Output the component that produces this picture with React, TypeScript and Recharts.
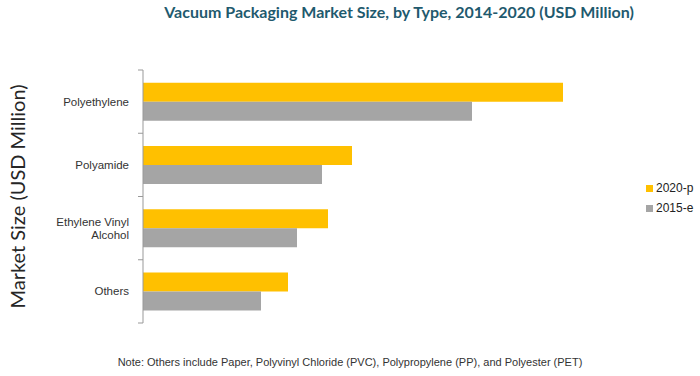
import { BarChart, Bar, XAxis, YAxis, Legend } from "recharts";

const categories = ["Polyethylene", "Polyamide", "Ethylene Vinyl\nAlcohol", "Others"];
const values2020 = [420, 209, 185, 145];
const values2015 = [329, 179, 154, 118];
const seriesNames = ["2020-p", "2015-e"];
const seriesColors = ["#FFC000", "#A5A5A5"];

const data = categories.map((name, i) => ({
  name,
  y2020: values2020[i],
  y2015: values2015[i],
}));

const TICK_SIZE = 5;
const TICK_MARGIN = 9;

function CategoryTick(props: any) {
  const { x, y, payload, height, visibleTicksCount, index } = props;
  const band = height / visibleTicksCount;
  const lines = String(payload.value).split("\n");
  const axisX = x + TICK_MARGIN + TICK_SIZE;
  return (
    <g>
      <line x1={axisX - TICK_SIZE} x2={axisX} y1={y - band / 2} y2={y - band / 2} stroke="#999" />
      {index === visibleTicksCount - 1 && (
        <line x1={axisX - TICK_SIZE} x2={axisX} y1={y + band / 2} y2={y + band / 2} stroke="#999" />
      )}
      <text
        x={x}
        y={y}
        textAnchor="end"
        fontSize={11.5}
        fontFamily="'Liberation Sans', Arial, sans-serif"
        fill="#333"
      >
        {lines.map((l, i) => (
          <tspan key={i} x={x} dy={i === 0 ? (lines.length === 1 ? 4 : -2.5) : 13}>
            {l}
          </tspan>
        ))}
      </text>
    </g>
  );
}

function YTitle(props: any) {
  const { viewBox } = props;
  const cx = viewBox.x + 17;
  const cy = viewBox.y + viewBox.height / 2;
  return (
    <text
      x={cx}
      y={cy}
      transform={`rotate(-90 ${cx} ${cy})`}
      textAnchor="middle"
      dominantBaseline="central"
      fontSize={20}
      fontFamily="Lato, 'Open Sans', sans-serif"
      fill="#262626"
    >
      Market Size (USD Million)
    </text>
  );
}

function LegendBox() {
  return (
    <div style={{ fontFamily: "'Liberation Sans', Arial, sans-serif", fontSize: 12, color: "#222" }}>
      {seriesNames.map((n, i) => (
        <div key={n} style={{ display: "flex", alignItems: "center", height: 20, whiteSpace: "nowrap" }}>
          <span style={{ width: 7, height: 7, background: seriesColors[i], marginRight: 3, display: "inline-block" }} />
          {n}
        </div>
      ))}
    </div>
  );
}

export default function App() {
  return (
    <div style={{ position: "relative", width: 700, height: 376, background: "#fff" }}>
      <style>{"body{margin:0}"}</style>
      <div
        style={{
          position: "absolute",
          top: 2,
          left: 0,
          width: 798,
          textAlign: "center",
          fontFamily: "Lato, 'Open Sans', sans-serif",
          fontWeight: 700,
          fontSize: 16,
          color: "#1f5a6e",
        }}
      >
        Vacuum Packaging Market Size, by Type, 2014-2020 (USD Million)
      </div>
      <BarChart
        width={700}
        height={376}
        data={data}
        layout="vertical"
        margin={{ top: 70, right: 0, bottom: 53, left: 0 }}
        barCategoryGap="20%"
        barGap={0}
      >
        <XAxis type="number" domain={[0, 500]} hide />
        <YAxis
          type="category"
          dataKey="name"
          width={143}
          axisLine={{ stroke: "#999" }}
          tickLine={false}
          tickSize={TICK_SIZE}
          tickMargin={TICK_MARGIN}
          tick={<CategoryTick />}
          interval={0}
          label={{ content: <YTitle /> }}
        />
        <Legend
          layout="vertical"
          align="right"
          verticalAlign="top"
          width={57}
          content={<LegendBox />}
          wrapperStyle={{ left: 646, top: 178 }}
        />
        <Bar dataKey="y2020" name={seriesNames[0]} fill={seriesColors[0]} isAnimationActive={false} />
        <Bar dataKey="y2015" name={seriesNames[1]} fill={seriesColors[1]} isAnimationActive={false} />
      </BarChart>
      <div
        style={{
          position: "absolute",
          top: 356,
          left: 0,
          width: 700,
          textAlign: "center",
          fontFamily: "'Liberation Sans', Arial, sans-serif",
          fontSize: 11,
          color: "#333",
        }}
      >
        Note: Others include Paper, Polyvinyl Chloride (PVC), Polypropylene (PP), and Polyester (PET)
      </div>
    </div>
  );
}
